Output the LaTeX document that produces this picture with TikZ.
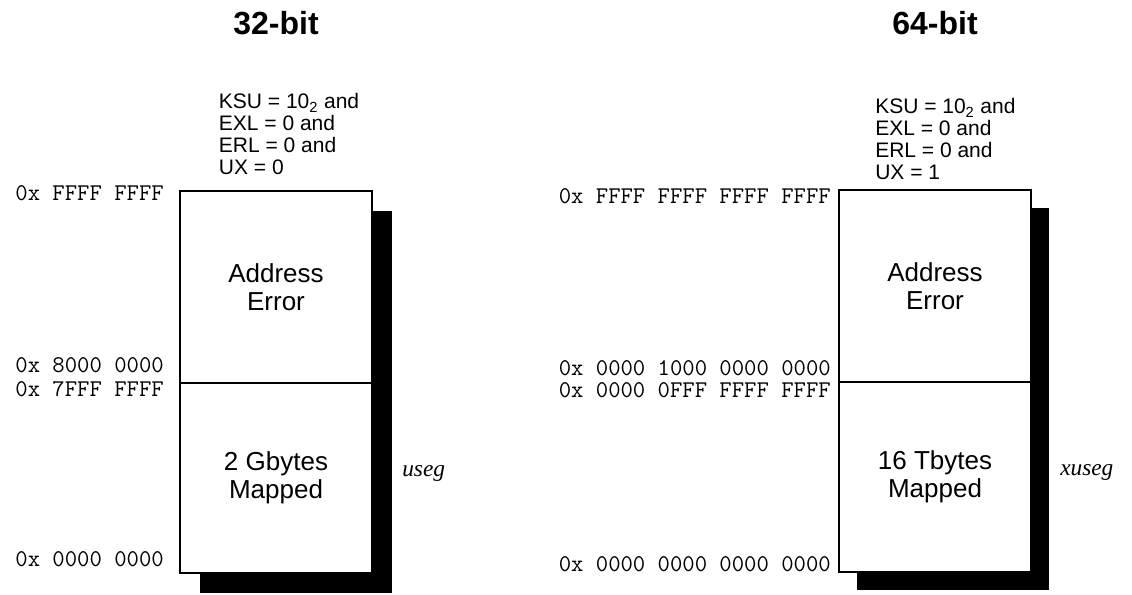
\documentclass[tikz,border=0pt]{standalone}
\usepackage{fontspec}
\setmainfont{Liberation Sans}
\newfontfamily\segfont{Liberation Serif}
\usetikzlibrary{positioning, backgrounds}

\begin{document}
\begin{tikzpicture}[x=0.75pt, y=0.75pt,
    segbox/.style={draw, line width=1.5pt, fill=white, minimum width=144pt, inner sep=0pt, outer sep=0pt, align=center, font=\fontsize{19.5}{21}\selectfont},
    addr/.style={font=\ttfamily\fontsize{18}{18}\selectfont, inner sep=0pt},
    cond/.style={align=left, inner sep=0pt, font=\fontsize{15.75}{16.5}\selectfont},
    title/.style={font=\bfseries\fontsize{24}{26}\selectfont},
    segname/.style={font=\segfont\itshape\fontsize{17.5}{18}\selectfont, inner sep=0pt},
    shadowbox/.style={fill=black}
  ]
  \useasboundingbox (0,0) rectangle (1132,595);

  \node[title, anchor=base] (t32) at (276,560) {32-bit};
  \node[title, anchor=base] (t64) at (935,560) {64-bit};

  % 32-bit user space
  \node[segbox, minimum height=144pt] (err32) at (276,308) {Address\\Error};
  \node[segbox, minimum height=142.5pt, below=0pt of err32] (map32) {2 Gbytes\\Mapped};
  \node[cond, anchor=south west] (cond32) at ([xshift=29pt, yshift=12pt]err32.north west) {KSU = 10\textsubscript{2} and\\EXL = 0 and\\ERL = 0 and\\UX = 0};
  \node[addr, anchor=base east] (hi32) at ([xshift=-12pt, yshift=-7.5pt]err32.north west) {0x FFFF FFFF};
  \node[addr, anchor=base east] (top32) at ([xshift=-12pt, yshift=7.5pt]err32.south west) {0x 8000 0000};
  \node[addr, anchor=base east] (bot32) at ([xshift=-12pt, yshift=-10.5pt]map32.north west) {0x 7FFF FFFF};
  \node[addr, anchor=base east] (lo32) at ([xshift=-12pt, yshift=4.5pt]map32.south west) {0x 0000 0000};
  \node[segname, anchor=base west] (useg) at ([xshift=22.5pt, yshift=0.75pt]map32.east) {useg};

  % 64-bit user space
  \node[segbox, minimum height=144pt] (err64) at (935,309) {Address\\Error};
  \node[segbox, minimum height=142.5pt, below=0pt of err64] (map64) {16 Tbytes\\Mapped};
  \node[cond, anchor=south west] (cond64) at ([xshift=27pt, yshift=7.5pt]err64.north west) {KSU = 10\textsubscript{2} and\\EXL = 0 and\\ERL = 0 and\\UX = 1};
  \node[addr, anchor=base east] (hi64) at ([xshift=-6pt, yshift=-10.5pt]err64.north west) {0x FFFF FFFF FFFF FFFF};
  \node[addr, anchor=base east] (top64) at ([xshift=-6pt, yshift=4.5pt]err64.south west) {0x 0000 1000 0000 0000};
  \node[addr, anchor=base east] (bot64) at ([xshift=-6pt, yshift=-12pt]map64.north west) {0x 0000 0FFF FFFF FFFF};
  \node[addr, anchor=base east] (lo64) at ([xshift=-6pt, yshift=0pt]map64.south west) {0x 0000 0000 0000 0000};
  \node[segname, anchor=base west] (xuseg) at ([xshift=21.75pt, yshift=0.75pt]map64.east) {xuseg};

  \begin{scope}[on background layer]
    \fill[shadowbox] ([shift={(20,-20)}]map32.south west) rectangle ([shift={(20,-20)}]err32.north east);
    \fill[shadowbox] ([shift={(18,-18)}]map64.south west) rectangle ([shift={(18,-18)}]err64.north east);
  \end{scope}
\end{tikzpicture}
\end{document}
